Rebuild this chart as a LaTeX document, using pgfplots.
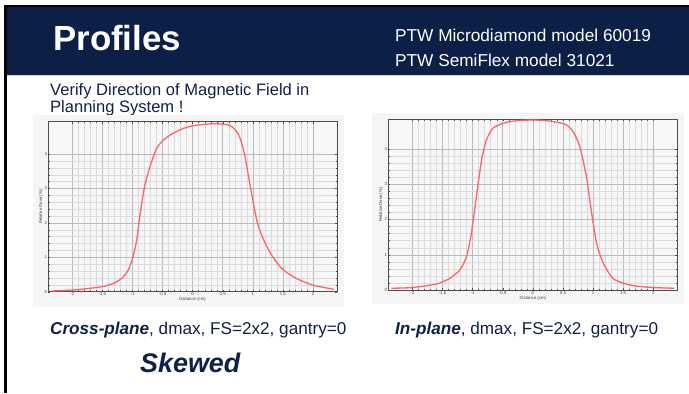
\documentclass[border=0pt]{standalone}
\usepackage{fontspec}
\setmainfont{Liberation Sans}
\usepackage{pgfplots}
\pgfplotsset{compat=1.18}
\definecolor{navy}{RGB}{12,31,70}
\definecolor{txt}{RGB}{16,32,72}
\definecolor{curve}{RGB}{255,100,100}
\definecolor{panel}{RGB}{245,245,245}
\pgfplotsset{
  profile/.style={
    scale only axis, anchor=south west,
    xmin=-2.4, xmax=2.4, ymin=0,
    xtick={-2,-1.5,-1,-0.5,0,0.5,1,1.5,2},
    ytick={0,1,2,3,4},
    minor x tick num=4, minor y tick num=4,
    grid=both,
    major grid style={gray!55, line width=0.45bp},
    minor grid style={gray!28, line width=0.35bp},
    axis line style={gray!60!black, line width=0.6bp},
    tick style={gray!60!black, line width=0.35bp},
    major tick length=2bp, minor tick length=1.3bp,
    tick align=inside,
    /pgf/number format/assume math mode=true,
    ticklabel style={font=\fontsize{4.3}{4.3}\selectfont, text=gray!50!black, inner sep=1bp},
    label style={font=\fontsize{4.3}{4.3}\selectfont, text=gray!50!black, inner sep=0.5bp},
    xlabel={Distance (cm)}, ylabel={Relative Dose (\%)},
    axis background/.style={fill=white!97!black},
  }
}
\begin{document}
\begin{tikzpicture}
\begin{scope}[x=1bp,y=-1bp]
\useasboundingbox (0,0) rectangle (689,393);
\fill[white] (0,0) rectangle (689,393);
\fill[navy] (7,7) rectangle (689,75);
\fill[black] (4,5) rectangle (689,7);
\fill[black] (4,5) rectangle (7,393);
\draw[gray!35, line width=0.8bp] (7,75.6) -- (689,75.6);
\node[anchor=base west, font=\fontsize{35}{38}\selectfont\bfseries, text=white, inner sep=0] at (53,50) {Profiles};
\node[anchor=base west, font=\fontsize{17.3}{20}\selectfont, text=white, inner sep=0] at (395,41.7) {PTW Microdiamond model 60019};
\node[anchor=base west, font=\fontsize{17.3}{20}\selectfont, text=white, inner sep=0] at (395,66.7) {PTW SemiFlex model 31021};
\node[anchor=base west, font=\fontsize{16.6}{20}\selectfont, text=txt, inner sep=0] at (50,95.5) {Verify Direction of Magnetic Field in};
\node[anchor=base west, font=\fontsize{16.6}{20}\selectfont, text=txt, inner sep=0] at (50,112.7) {Planning System !};
\fill[panel] (33,115) rectangle (344,307);
\fill[panel] (372,113) rectangle (684,304);
\node[anchor=base west, font=\fontsize{17.2}{20}\selectfont, text=txt, inner sep=0] at (50,334) {\textbf{\textit{Cross-plane}}, dmax, FS=2x2, gantry=0};
\node[anchor=base west, font=\fontsize{17.2}{20}\selectfont, text=txt, inner sep=0] at (395,334) {\textbf{\textit{In-plane}}, dmax, FS=2x2, gantry=0};
\node[anchor=base west, font=\fontsize{27}{30}\selectfont\bfseries\itshape, text=txt, inner sep=0] at (140,372) {Skewed};
\end{scope}

\begin{axis}[profile, at={(48.3bp,-291.7bp)}, width=288.7bp, height=170bp, ymax=4.94]
\addplot[curve, line width=1.3bp, smooth, tension=0.4] coordinates {
(-2.35,0.02) (-2.0,0.05) (-1.75,0.09) (-1.5,0.15) (-1.32,0.24) (-1.18,0.39)
(-1.07,0.63) (-0.99,1.02) (-0.93,1.5) (-0.88,2.18) (-0.80,3.05) (-0.71,3.63)
(-0.60,4.16) (-0.49,4.40) (-0.33,4.60) (-0.16,4.74) (0,4.82) (0.23,4.87)
(0.39,4.88) (0.55,4.86) (0.63,4.82) (0.70,4.72) (0.78,4.5) (0.86,4.02)
(0.94,3.24) (1.01,2.57) (1.08,1.98) (1.17,1.55) (1.28,1.16) (1.41,0.82)
(1.51,0.63) (1.72,0.39) (2.0,0.19) (2.35,0.07)
};
\end{axis}

\begin{axis}[profile, at={(388.3bp,-290bp)}, width=289bp, height=170.7bp, ymax=4.84]
\addplot[curve, line width=1.3bp, smooth, tension=0.4] coordinates {
(-2.35,0.05) (-2,0.07) (-1.6,0.17) (-1.38,0.33) (-1.21,0.57) (-1.10,0.95)
(-1.02,1.61) (-0.93,2.74) (-0.85,3.69) (-0.77,4.26) (-0.66,4.59) (-0.49,4.73)
(-0.27,4.80) (0,4.82) (0.23,4.80) (0.45,4.74) (0.56,4.68) (0.67,4.49)
(0.78,4.07) (0.89,3.22) (0.97,2.27) (1.06,1.32) (1.17,0.76) (1.33,0.33)
(1.51,0.19) (1.72,0.11) (2.0,0.07) (2.35,0.05)
};
\end{axis}
\end{tikzpicture}
\end{document}
